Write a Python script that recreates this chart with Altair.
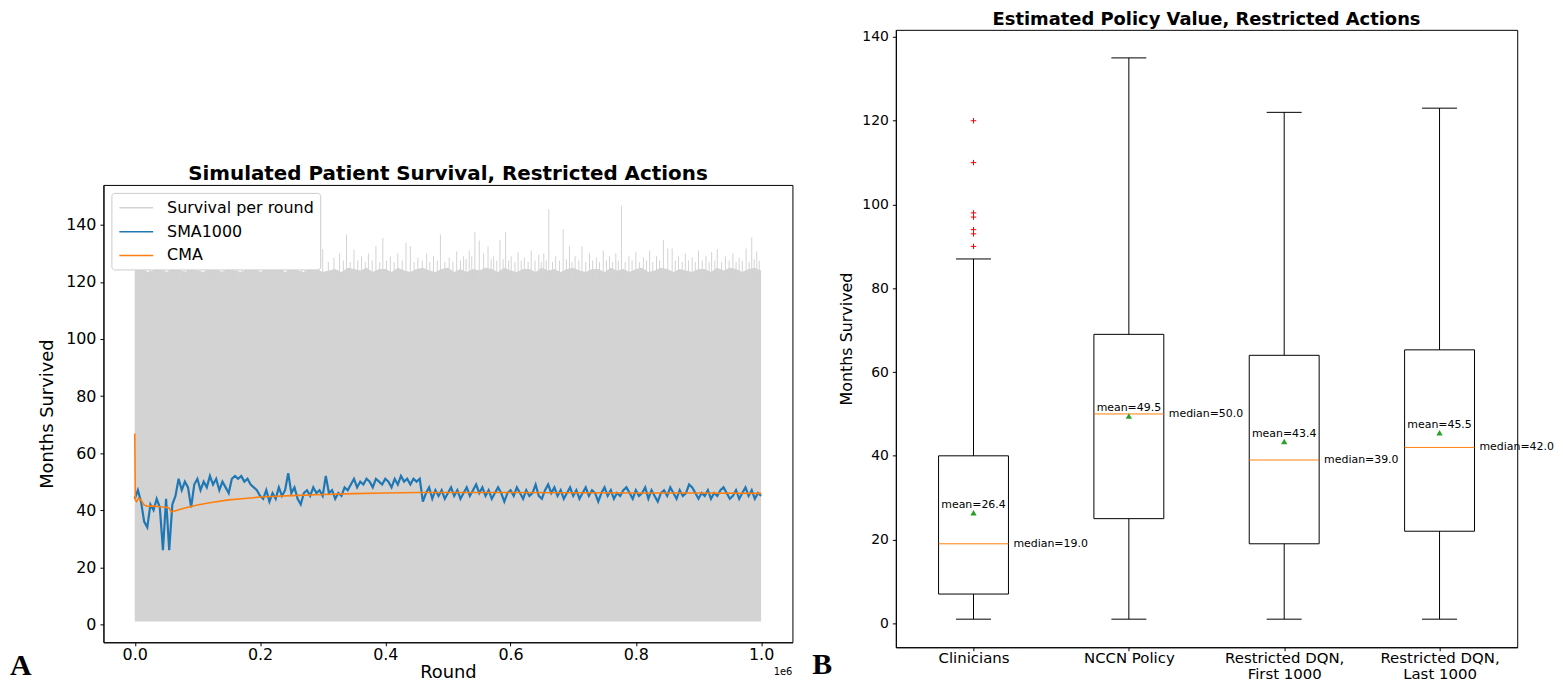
import altair as alt
import pandas as pd

# ---------------- Panel A data ----------------
SMA_STEP = 0.005  # rounds (x 1e6) between SMA samples
sma_values = [
    44, 47, 43, 36, 34, 42, 40, 44, 41, 26, 44, 26, 42, 45, 51, 47, 50, 48, 41, 49,
    51, 47, 50, 48, 52, 49, 51, 47, 50, 48, 46, 51, 52, 51, 52, 50, 51, 49, 48, 47,
    45, 44, 47, 43, 46, 44, 48, 45, 47, 53, 46, 48, 44, 42, 46, 47, 45, 48, 46, 47,
    45, 52, 46, 47, 44, 46, 45, 48, 47, 49, 51, 48, 50, 49, 51, 50, 48, 51, 50, 49,
    51, 50, 48, 51, 49, 52, 50, 51, 49, 51, 50, 51, 43, 46, 48, 44, 47, 45, 47, 44,
    46, 48, 45, 47, 44, 46, 48, 45, 47, 49, 46, 48, 45, 47, 44, 46, 48, 46, 43, 46,
    47, 45, 48, 46, 44, 47, 45, 46, 49, 45, 44, 47, 49, 46, 48, 45, 47, 44, 46, 48,
    45, 47, 44, 46, 48, 45, 47, 46, 43, 46, 48, 45, 47, 44, 46, 45, 47, 48, 46, 44,
    47, 45, 46, 48, 44, 47, 45, 43, 46, 47, 45, 48, 46, 44, 47, 45, 46, 49, 48, 46,
    44, 46, 45, 47, 44, 46, 45, 47, 48, 46, 44, 45, 47, 44, 46, 48, 45, 47, 44, 46, 45,
]
cma_rounds = [0.0, 0.001, 0.003, 0.006, 0.01, 0.015, 0.02, 0.03, 0.04, 0.05, 0.055,
              0.058, 0.065, 0.08, 0.1, 0.12, 0.15, 0.18, 0.2, 0.25, 0.3, 0.35, 0.4,
              0.45, 0.5, 0.6, 0.7, 0.8, 0.9, 1.0]
cma_values = [66.9, 43.5, 43.0, 44.2, 43.6, 41.8, 41.4, 41.5, 41.2, 41.0, 40.8,
              39.4, 39.8, 40.8, 41.8, 42.6, 43.6, 44.2, 44.6, 45.1, 45.5, 45.8, 46.0,
              46.2, 46.2, 46.2, 46.1, 46.0, 46.0, 45.9]
ENV_STEP = 0.01
env_top = [
    124, 125, 123.5, 124, 125, 123.5, 124.5, 124.5, 123.5, 125,
    124, 123.5, 124.5, 124.5, 123.5, 125, 124, 123.5, 124.5, 125,
    123.5, 124.5, 124, 125, 123.5, 124.5, 124, 123.5, 125, 124.5,
    123.5, 124, 124.5, 123.5, 125, 124.5, 124, 125, 123.5, 124.5,
    124.5, 123.5, 125, 124, 123.5, 124.5, 125, 124, 123.5, 124.5,
    125, 123.5, 124.5, 123.5, 124.5, 124, 125, 124.5, 123.5, 125,
    124, 123.5, 124.5, 124.5, 123.5, 125, 124, 124.5, 123.5, 124.5,
    125, 124, 123.5, 124.5, 124.5, 123.5, 125, 124, 124.5, 123.5,
    124.5, 125, 123.5, 124, 125, 124.5, 123.5, 124.5, 124, 123.5,
    124.5, 124.5, 123.5, 125, 124, 125, 124.5, 123.5, 124.5, 125,
    124,
]
spike_rounds = [0.006, 0.012, 0.018, 0.024, 0.03, 0.036, 0.042, 0.048, 0.055, 0.061,
                0.068, 0.074, 0.079, 0.085, 0.09, 0.097, 0.104, 0.112, 0.12, 0.127,
                0.133, 0.141, 0.15, 0.157, 0.163, 0.171, 0.178, 0.184, 0.19, 0.198,
                0.205, 0.213, 0.22, 0.228, 0.236, 0.244, 0.252, 0.26, 0.266, 0.272,
                0.28, 0.287, 0.294, 0.30, 0.309, 0.318, 0.327, 0.333, 0.338, 0.344,
                0.35, 0.356, 0.362, 0.368, 0.373, 0.379, 0.385, 0.391, 0.396, 0.402,
                0.408, 0.414, 0.42, 0.427, 0.433, 0.440, 0.446, 0.452, 0.459, 0.466,
                0.471, 0.477, 0.483, 0.488, 0.495, 0.502, 0.508, 0.514, 0.52, 0.525,
                0.529, 0.534, 0.538, 0.543, 0.550, 0.557, 0.564, 0.569, 0.573, 0.578,
                0.583, 0.588, 0.592, 0.597, 0.601, 0.607, 0.612, 0.617, 0.622, 0.628,
                0.633, 0.639, 0.645, 0.649, 0.653, 0.657, 0.661, 0.667, 0.672, 0.678,
                0.684, 0.689, 0.694, 0.698, 0.703, 0.709, 0.714, 0.72, 0.726, 0.731,
                0.737, 0.742, 0.748, 0.753, 0.758, 0.763, 0.768, 0.772, 0.777, 0.783,
                0.789, 0.794, 0.80, 0.806, 0.812, 0.817, 0.822, 0.827, 0.833, 0.838,
                0.844, 0.851, 0.858, 0.863, 0.868, 0.874, 0.879, 0.884, 0.89, 0.895,
                0.90, 0.906, 0.912, 0.917, 0.921, 0.926, 0.93, 0.937, 0.943, 0.949,
                0.955, 0.96, 0.965, 0.97, 0.976, 0.981, 0.985, 0.989, 0.993, 0.997]
spike_heights = [129, 133.7, 133.5, 128, 131, 127, 129, 127.5, 130, 127,
                 128.5, 127, 129, 127.5, 131.9, 127, 128, 127, 131, 127.5,
                 129, 127, 130.5, 127.5, 128.5, 127, 128, 127.5, 131, 127,
                 129, 127, 132, 127.5, 128.5, 127, 128, 133, 127, 129,
                 127.5, 130, 127, 131.5, 127, 128.5, 130, 127.5, 136.6, 127,
                 131.4, 127.5, 129, 127, 130, 127.5, 132.5, 127, 135.4, 127.5,
                 129, 127, 130, 127.5, 133.7, 132.5, 127, 128.5, 127.5, 130,
                 127, 129, 127.5, 136.6, 127, 128.5, 127, 130.7, 127.5, 129,
                 128, 131, 129, 137.5, 134.5, 130, 132.5, 128, 129, 127.5,
                 134.7, 128, 137.5, 127.5, 129, 127, 130.5, 127.5, 128.5, 127,
                 131, 127.5, 129.5, 127, 130, 127.5, 145.5, 127, 129, 127.5,
                 138.5, 128, 132.5, 127, 129, 127.5, 132.5, 127, 130, 127.5,
                 128.5, 127, 131, 127.5, 129, 127, 130, 127.5, 146.7, 127,
                 129, 127.5, 130.5, 127, 128.5, 127.5, 131, 127, 129, 127.5,
                 134.7, 131.7, 131.7, 127.5, 129, 127, 130, 127.5, 128.5, 127,
                 131, 127.5, 129, 127, 130.5, 127.5, 131.5, 127, 129, 127.5,
                 130, 127, 128.5, 127.5, 131.7, 127, 135.6, 128, 130.7, 127.5]
series_names = ["Survival per round", "SMA1000", "CMA"]
series_colors = ["#d3d3d3", "#1f77b4", "#ff7f0e"]
a_xticks = [0.0, 0.2, 0.4, 0.6, 0.8, 1.0]
a_yticks = [0, 20, 40, 60, 80, 100, 120, 140]

# ---------------- Panel B data ----------------
categories = ["Clinicians", "NCCN Policy", "Restricted DQN,\nFirst 1000", "Restricted DQN,\nLast 1000"]
positions = [1, 2, 3, 4]
whisk_lo = [1, 1, 1, 1]
q1 = [7, 25, 19, 22]
medians = [19.0, 50.0, 39.0, 42.0]
q3 = [40, 69, 64, 65.3]
whisk_hi = [87, 135, 122, 123]
means = [26.4, 49.5, 43.4, 45.5]
outlier_values = [90, 93, 94, 97, 98, 110, 120]
outlier_pos = [1, 1, 1, 1, 1, 1, 1]
b_yticks = [0, 20, 40, 60, 80, 100, 120, 140]

FONT = "DejaVu Sans"
GREY = series_colors[0]

# ---------------- Panel A chart ----------------
WA, HA = 693, 460
sma_df = pd.DataFrame({"round": [i * SMA_STEP for i in range(len(sma_values))],
                       "value": sma_values, "series": "SMA1000"})
cma_df = pd.DataFrame({"round": cma_rounds, "value": cma_values, "series": "CMA"})
env_df = pd.DataFrame({"round": [i * ENV_STEP for i in range(len(env_top))],
                       "value": env_top})
spk_df = pd.DataFrame({"round": spike_rounds, "value": spike_heights})

xs_a = alt.Scale(domain=[-0.05, 1.05], nice=False, zero=False)
ys_a = alt.Scale(domain=[-6.3, 154], nice=False, zero=False)
cs_a = alt.Scale(domain=series_names, range=series_colors)

x_a = alt.X("round:Q", scale=xs_a,
            axis=alt.Axis(title="Round", values=a_xticks, format=".1f", labelFontSize=16,
                          titleFontSize=18, labelFont=FONT, titleFont=FONT, titleFontWeight="normal",
                          tickSize=3.5, tickColor="black", labelColor="black", titleColor="black",
                          domainColor="black", grid=False, labelPadding=1, titlePadding=0.5,
                          labelFlush=False))
y_a = alt.Y("value:Q", scale=ys_a,
            axis=alt.Axis(title="Months Survived", values=a_yticks, labelFontSize=16,
                          titleFontSize=18, labelFont=FONT, titleFont=FONT, titleFontWeight="normal",
                          tickSize=3.5, tickColor="black", labelColor="black", titleColor="black",
                          domainColor="black", grid=False, labelPadding=4, titlePadding=9))
legend_a = alt.Legend(title=None, orient="top-left", offset=8,
                      symbolType="M-0.875,0L3.375,0", symbolSize=256, symbolStrokeWidth=1.5,
                      labelFontSize=16, labelFont=FONT, labelColor="black",
                      strokeColor="#cccccc", fillColor="white", cornerRadius=3,
                      padding=6, rowPadding=7, labelOffset=32)

grey_area = alt.Chart(env_df).mark_area(opacity=1, interpolate="linear", color=GREY).encode(
    x=x_a, y=y_a, y2=alt.datum(1))
grey_spikes = alt.Chart(spk_df).mark_rule(strokeWidth=1, color=GREY).encode(
    x="round:Q", y="value:Q", y2=alt.datum(120))
sma_line = alt.Chart(sma_df).mark_line(strokeWidth=2.2).encode(
    x="round:Q", y="value:Q", color=alt.Color("series:N", scale=cs_a, legend=legend_a))
cma_line = alt.Chart(cma_df).mark_line(strokeWidth=1.6).encode(
    x="round:Q", y="value:Q", color=alt.Color("series:N", scale=cs_a, legend=legend_a))
offset_txt = alt.Chart(pd.DataFrame({"t": ["1e6"]})).mark_text(
    align="right", baseline="middle", fontSize=10, font=FONT, color="black").encode(
    x=alt.value(WA), y=alt.value(HA + 30), text="t:N")
label_a = alt.Chart(pd.DataFrame({"t": ["A"]})).mark_text(
    align="left", baseline="alphabetic", fontSize=30, font="Liberation Serif",
    fontWeight="bold", color="black").encode(
    x=alt.value(-94), y=alt.value(HA + 33), text="t:N")

panel_a = alt.layer(grey_area, grey_spikes, sma_line, cma_line, offset_txt, label_a).properties(
    width=WA, height=HA,
    title=alt.TitleParams("Simulated Patient Survival, Restricted Actions", fontSize=20,
                          fontWeight="bold", font=FONT, color="black", offset=1))

spacer = alt.Chart(pd.DataFrame({"t": [""]})).mark_text().encode(
    x=alt.value(0), y=alt.value(0), text="t:N").properties(
    width=WA, height=134, view=alt.ViewBackground(strokeOpacity=0))

# ---------------- Panel B chart ----------------
WB, HB = 625, 621
box_df = pd.DataFrame({"cat": categories, "pos": positions, "lo": whisk_lo, "q1": q1,
                       "median": medians, "q3": q3, "hi": whisk_hi, "mean": means})
out_df = pd.DataFrame({"pos": outlier_pos, "value": outlier_values})

parts = []
for p, c in zip(positions, categories):
    arr = "[" + ",".join("'" + s + "'" for s in c.split("\n")) + "]"
    parts.append(f"datum.value == {p} ? {arr} : ")
label_expr = "".join(parts) + "''"

xs_b = alt.Scale(domain=[0.5, 4.5], nice=False, zero=False)
ys_b = alt.Scale(domain=[-5.7, 141.7], nice=False, zero=False)
x_b = alt.X("pos:Q", scale=xs_b,
            axis=alt.Axis(title=None, values=positions, labelExpr=label_expr, labelFontSize=15,
                          labelFont=FONT, labelColor="black", tickSize=3.5, tickColor="black",
                          domainColor="black", grid=False, labelPadding=0, labelLineHeight=15.5))
y_b = alt.Y("lo:Q", scale=ys_b,
            axis=alt.Axis(title="Months Survived", values=b_yticks, labelFontSize=14,
                          titleFontSize=16, labelFont=FONT, titleFont=FONT, titleFontWeight="normal",
                          tickSize=3.5, tickColor="black", labelColor="black", titleColor="black",
                          domainColor="black", grid=False, labelPadding=4, titlePadding=7))

base_b = alt.Chart(box_df).transform_calculate(
    box_l="datum.pos - 0.225", box_r="datum.pos + 0.225",
    cap_l="datum.pos - 0.1125", cap_r="datum.pos + 0.1125",
    mean_lbl="'mean=' + format(datum.mean, '.1f')",
    med_lbl="'median=' + format(datum.median, '.1f')")

whisk_low = base_b.mark_rule(color="black", strokeWidth=1).encode(x=x_b, y=y_b, y2="q1:Q")
whisk_high = base_b.mark_rule(color="black", strokeWidth=1).encode(x="pos:Q", y="q3:Q", y2="hi:Q")
cap_low = base_b.mark_rule(color="black", strokeWidth=1).encode(x="cap_l:Q", x2="cap_r:Q", y="lo:Q")
cap_high = base_b.mark_rule(color="black", strokeWidth=1).encode(x="cap_l:Q", x2="cap_r:Q", y="hi:Q")
boxes = base_b.mark_rect(fill="white", fillOpacity=0, stroke="black", strokeWidth=1).encode(
    x="box_l:Q", x2="box_r:Q", y="q1:Q", y2="q3:Q")
med_line = base_b.mark_rule(color="#ff7f0e", strokeWidth=1).encode(
    x="box_l:Q", x2="box_r:Q", y="median:Q")
mean_pt = base_b.mark_point(shape="triangle-up", filled=True, color="#2ca02c", size=40,
                            opacity=1).encode(x="pos:Q", y="mean:Q")
mean_txt = base_b.mark_text(fontSize=11, font=FONT, color="black", dy=-8,
                            baseline="middle", align="center").encode(
    x="pos:Q", y="mean:Q", text="mean_lbl:N")
med_txt = base_b.mark_text(fontSize=11, font=FONT, color="black", dx=5,
                           align="left", baseline="middle").encode(
    x="box_r:Q", y="median:Q", text="med_lbl:N")
outliers = alt.Chart(out_df).mark_point(shape="M-1,0L1,0M0,-1L0,1", color="red", size=30,
                                        strokeWidth=1, filled=False, opacity=1).encode(
    x="pos:Q", y="value:Q")
label_b = alt.Chart(pd.DataFrame({"t": ["B"]})).mark_text(
    align="left", baseline="alphabetic", fontSize=30, font="Liberation Serif",
    fontWeight="bold", color="black").encode(
    x=alt.value(-84), y=alt.value(HB + 27), text="t:N")

panel_b = alt.layer(whisk_low, whisk_high, cap_low, cap_high, boxes, med_line, mean_pt,
                    mean_txt, med_txt, outliers, label_b).properties(
    width=WB, height=HB,
    title=alt.TitleParams("Estimated Policy Value, Restricted Actions", fontSize=18,
                          fontWeight="bold", font=FONT, color="black", offset=1))

left_col = alt.vconcat(spacer, panel_a, spacing=0).resolve_scale(
    color="independent").resolve_legend(color="independent")
chart = alt.hconcat(left_col, panel_b, spacing=18).resolve_scale(
    color="independent").resolve_legend(color="independent").properties(
    padding={"left": 1, "top": 0, "right": 0, "bottom": 0}
).configure_view(stroke="black", strokeWidth=1).configure_axis(domain=True)

chart.save("out.html", embed_options={"renderer": "svg", "actions": False})
